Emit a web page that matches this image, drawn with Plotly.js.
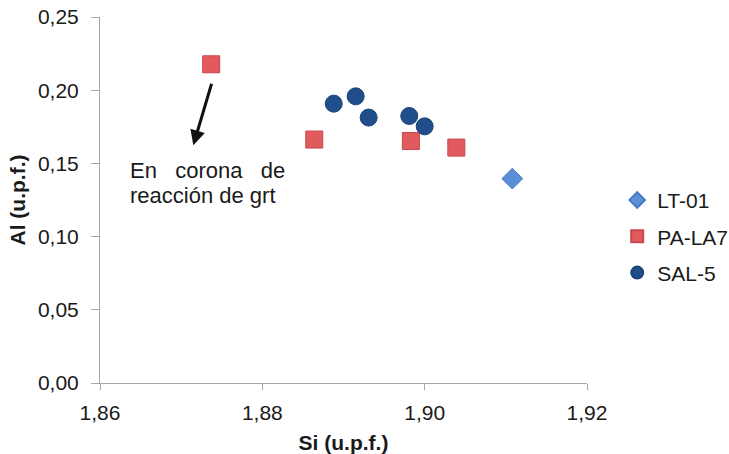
<!DOCTYPE html>
<html><head><meta charset="utf-8">
<script src="https://cdn.plot.ly/plotly-3.0.1.min.js"></script>
<style>html,body{margin:0;padding:0;background:#fff}</style>
</head><body>
<div id="chart" style="width:729px;height:454px"></div>
<script>
const ltX = [1.9108];
const ltY = [0.1396];
const paX = [1.8737, 1.8864, 1.8983, 1.9039];
const paY = [0.2177, 0.1663, 0.1653, 0.1608];
const salX = [1.8888, 1.8915, 1.8931, 1.8981, 1.9000];
const salY = [0.1908, 0.1958, 0.1813, 0.1824, 0.1753];
const xTicks = [1.86, 1.88, 1.90, 1.92];
const xTickText = ['1,86', '1,88', '1,90', '1,92'];
const yTicks = [0, 0.05, 0.10, 0.15, 0.20, 0.25];
const yTickText = ['0,00', '0,05', '0,10', '0,15', '0,20', '0,25'];
const noteLines = ['En&nbsp;&nbsp;&nbsp;corona&nbsp;&nbsp;&nbsp;de', 'reacción de grt'];

const font = 'Liberation Sans, Arial, sans-serif';
const txt = '#1a1a1a';
const traces = [
  {x: ltX, y: ltY, name: 'LT-01', mode: 'markers', type: 'scatter', legendgroup: 'a',
   marker: {symbol: 'diamond', size: 16, color: '#5b8fda', line: {color: '#4a7cc4', width: 1}}},
  {x: paX, y: paY, name: 'PA-LA7', mode: 'markers', type: 'scatter', legendgroup: 'b',
   marker: {symbol: 'square', size: 17, color: '#e15a5e', line: {color: '#c8484c', width: 1}}},
  {x: salX, y: salY, name: 'SAL-5', mode: 'markers', type: 'scatter', legendgroup: 'c',
   marker: {symbol: 'circle', size: 17, color: '#1f4e8a', line: {color: '#1a4277', width: 1}}}
];
const layout = {
  width: 729, height: 454,
  margin: {l: 100, r: 142, t: 17, b: 71, autoexpand: false},
  paper_bgcolor: '#fff', plot_bgcolor: '#fff',
  font: {family: font, size: 21, color: txt},
  showlegend: true,
  legend: {x: 1.062, y: 0.555, xanchor: 'left', yanchor: 'top', font: {size: 21, color: txt},
           itemwidth: 30, itemsizing: 'constant', tracegroupgap: 6, bgcolor: 'rgba(0,0,0,0)'},
  xaxis: {range: [1.86, 1.92], tickvals: xTicks, ticktext: xTickText, showgrid: false, zeroline: false,
          showline: true, linecolor: '#a6a6a6', linewidth: 1, ticks: 'outside', tickcolor: '#a6a6a6', ticklen: 6,
          ticklabelstandoff: 5, tickfont: {size: 21, color: txt},
          title: {text: '<b>Si (u.p.f.)</b>', font: {size: 21, color: txt}, standoff: 12}},
  yaxis: {range: [0, 0.25], tickvals: yTicks, ticktext: yTickText, showgrid: false, zeroline: false,
          showline: true, linecolor: '#a6a6a6', linewidth: 1, ticks: 'outside', tickcolor: '#a6a6a6', ticklen: 8,
          ticklabelstandoff: 8, tickfont: {size: 21, color: txt},
          title: {text: '<b>Al (u.p.f.)</b>', font: {size: 21, color: txt}, standoff: 6}},
  annotations: [
    {x: 1.8715, y: 0.1624, xref: 'x', yref: 'y', ax: 1.8738, ay: 0.2054, axref: 'x', ayref: 'y',
     text: '', showarrow: true, arrowhead: 2, arrowsize: 1, arrowwidth: 3, arrowcolor: '#111'},
    {x: 1.86349, y: 0.1453, xref: 'x', yref: 'y', xanchor: 'left', yanchor: 'middle', align: 'left',
     text: noteLines[0], showarrow: false, font: {size: 22, color: txt}},
    {x: 1.86349, y: 0.1282, xref: 'x', yref: 'y', xanchor: 'left', yanchor: 'middle', align: 'left',
     text: noteLines[1], showarrow: false, font: {size: 22, color: txt}}
  ]
};
Plotly.newPlot('chart', traces, layout, {displayModeBar: false, staticPlot: true});
</script>
</body></html>
